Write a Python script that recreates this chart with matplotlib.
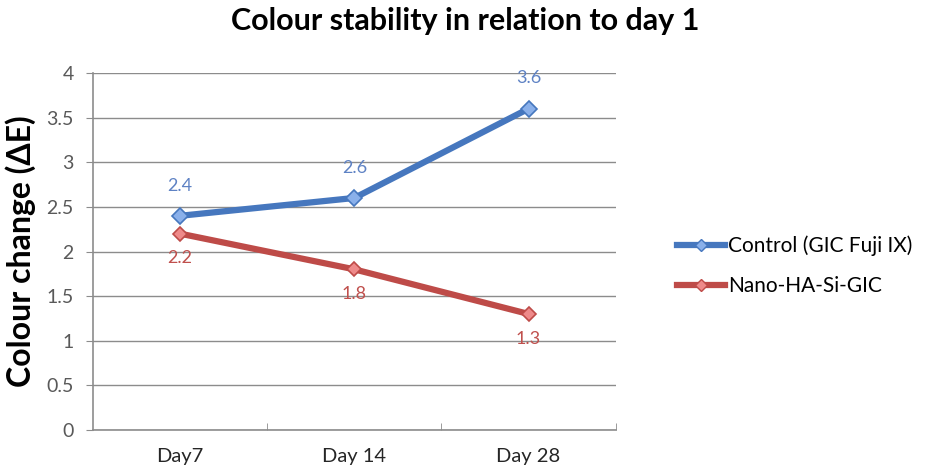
import matplotlib
matplotlib.use("Agg")
import matplotlib.pyplot as plt
from matplotlib.lines import Line2D

plt.rcParams['font.family'] = ['Lato', 'DejaVu Sans']

categories = ["Day7", "Day 14", "Day 28"]
control_values = [2.4, 2.6, 3.6]
nano_values = [2.2, 1.8, 1.3]
series_names = ["Control (GIC Fuji IX)", "Nano-HA-Si-GIC"]
y_ticks = [0, 0.5, 1, 1.5, 2, 2.5, 3, 3.5, 4]

fig = plt.figure(figsize=(9.3, 4.66), dpi=100)
ax = fig.add_axes([0.1, 0.0773, 0.562, 0.766])

x = list(range(len(categories)))
blue_line, blue_marker, blue_text = "#4677BE", "#8AB0EA", "#5E82C4"
red_line, red_marker, red_text = "#BE4B48", "#EE8A8A", "#C0504D"

ax.plot(x, control_values, color=blue_line, lw=4.5, marker="D", ms=8,
        mfc=blue_marker, mec=blue_line, mew=1.2, zorder=3,
        solid_capstyle="round")
ax.plot(x, nano_values, color=red_line, lw=4.5, marker="D", ms=7,
        mfc=red_marker, mec=red_line, mew=1.2, zorder=3,
        solid_capstyle="round")

for xi, v in zip(x, control_values):
    ax.annotate(f"{v:g}", (xi, v), xytext=(0, 16), textcoords="offset points",
                ha="center", va="bottom", fontsize=13, color=blue_text)
for xi, v in zip(x, nano_values):
    ax.annotate(f"{v:g}", (xi, v), xytext=(0, -12), textcoords="offset points",
                ha="center", va="top", fontsize=13, color=red_text)

ax.set_xlim(-0.5, len(categories) - 0.5)
ax.set_ylim(0, 4)
ax.set_yticks(y_ticks)
ax.set_yticklabels([f"{t:g}" for t in y_ticks])
ax.set_xticks(x)
ax.set_xticklabels(categories)
ax.set_xticks([i + 0.5 for i in range(len(categories))], minor=True)
ax.tick_params(axis="x", which="major", length=0, pad=13, labelsize=14.5, labelcolor="#262626")
ax.tick_params(axis="x", which="minor", length=5, color="#8C8C8C", direction="in")
ax.tick_params(axis="y", length=5, color="#8C8C8C", pad=9, labelsize=14, labelcolor="#595959")

ax.grid(axis="y", color="#8C8C8C", lw=1.0)
ax.set_axisbelow(True)
for side in ["top", "right"]:
    ax.spines[side].set_visible(False)
for side in ["left", "bottom"]:
    ax.spines[side].set_color("#8C8C8C")
    ax.spines[side].set_linewidth(1.2)

ax.set_ylabel("Colour change (ΔE)", fontsize=23, fontweight="bold", labelpad=7)
fig.suptitle("Colour stability in relation to day 1", x=0.5, y=0.985,
             fontsize=22, fontweight="bold")

handles = [
    Line2D([], [], color=blue_line, lw=4.5, marker="D", ms=6, mfc=blue_marker, mec=blue_line),
    Line2D([], [], color=red_line, lw=4.5, marker="D", ms=6, mfc=red_marker, mec=red_line),
]
fig.legend(handles, series_names, loc="center left", bbox_to_anchor=(0.708, 0.43),
           frameon=False, fontsize=15, handlelength=2.3, handletextpad=0.15,
           labelspacing=0.95)

fig.savefig("out.png", dpi=100, facecolor="white")
